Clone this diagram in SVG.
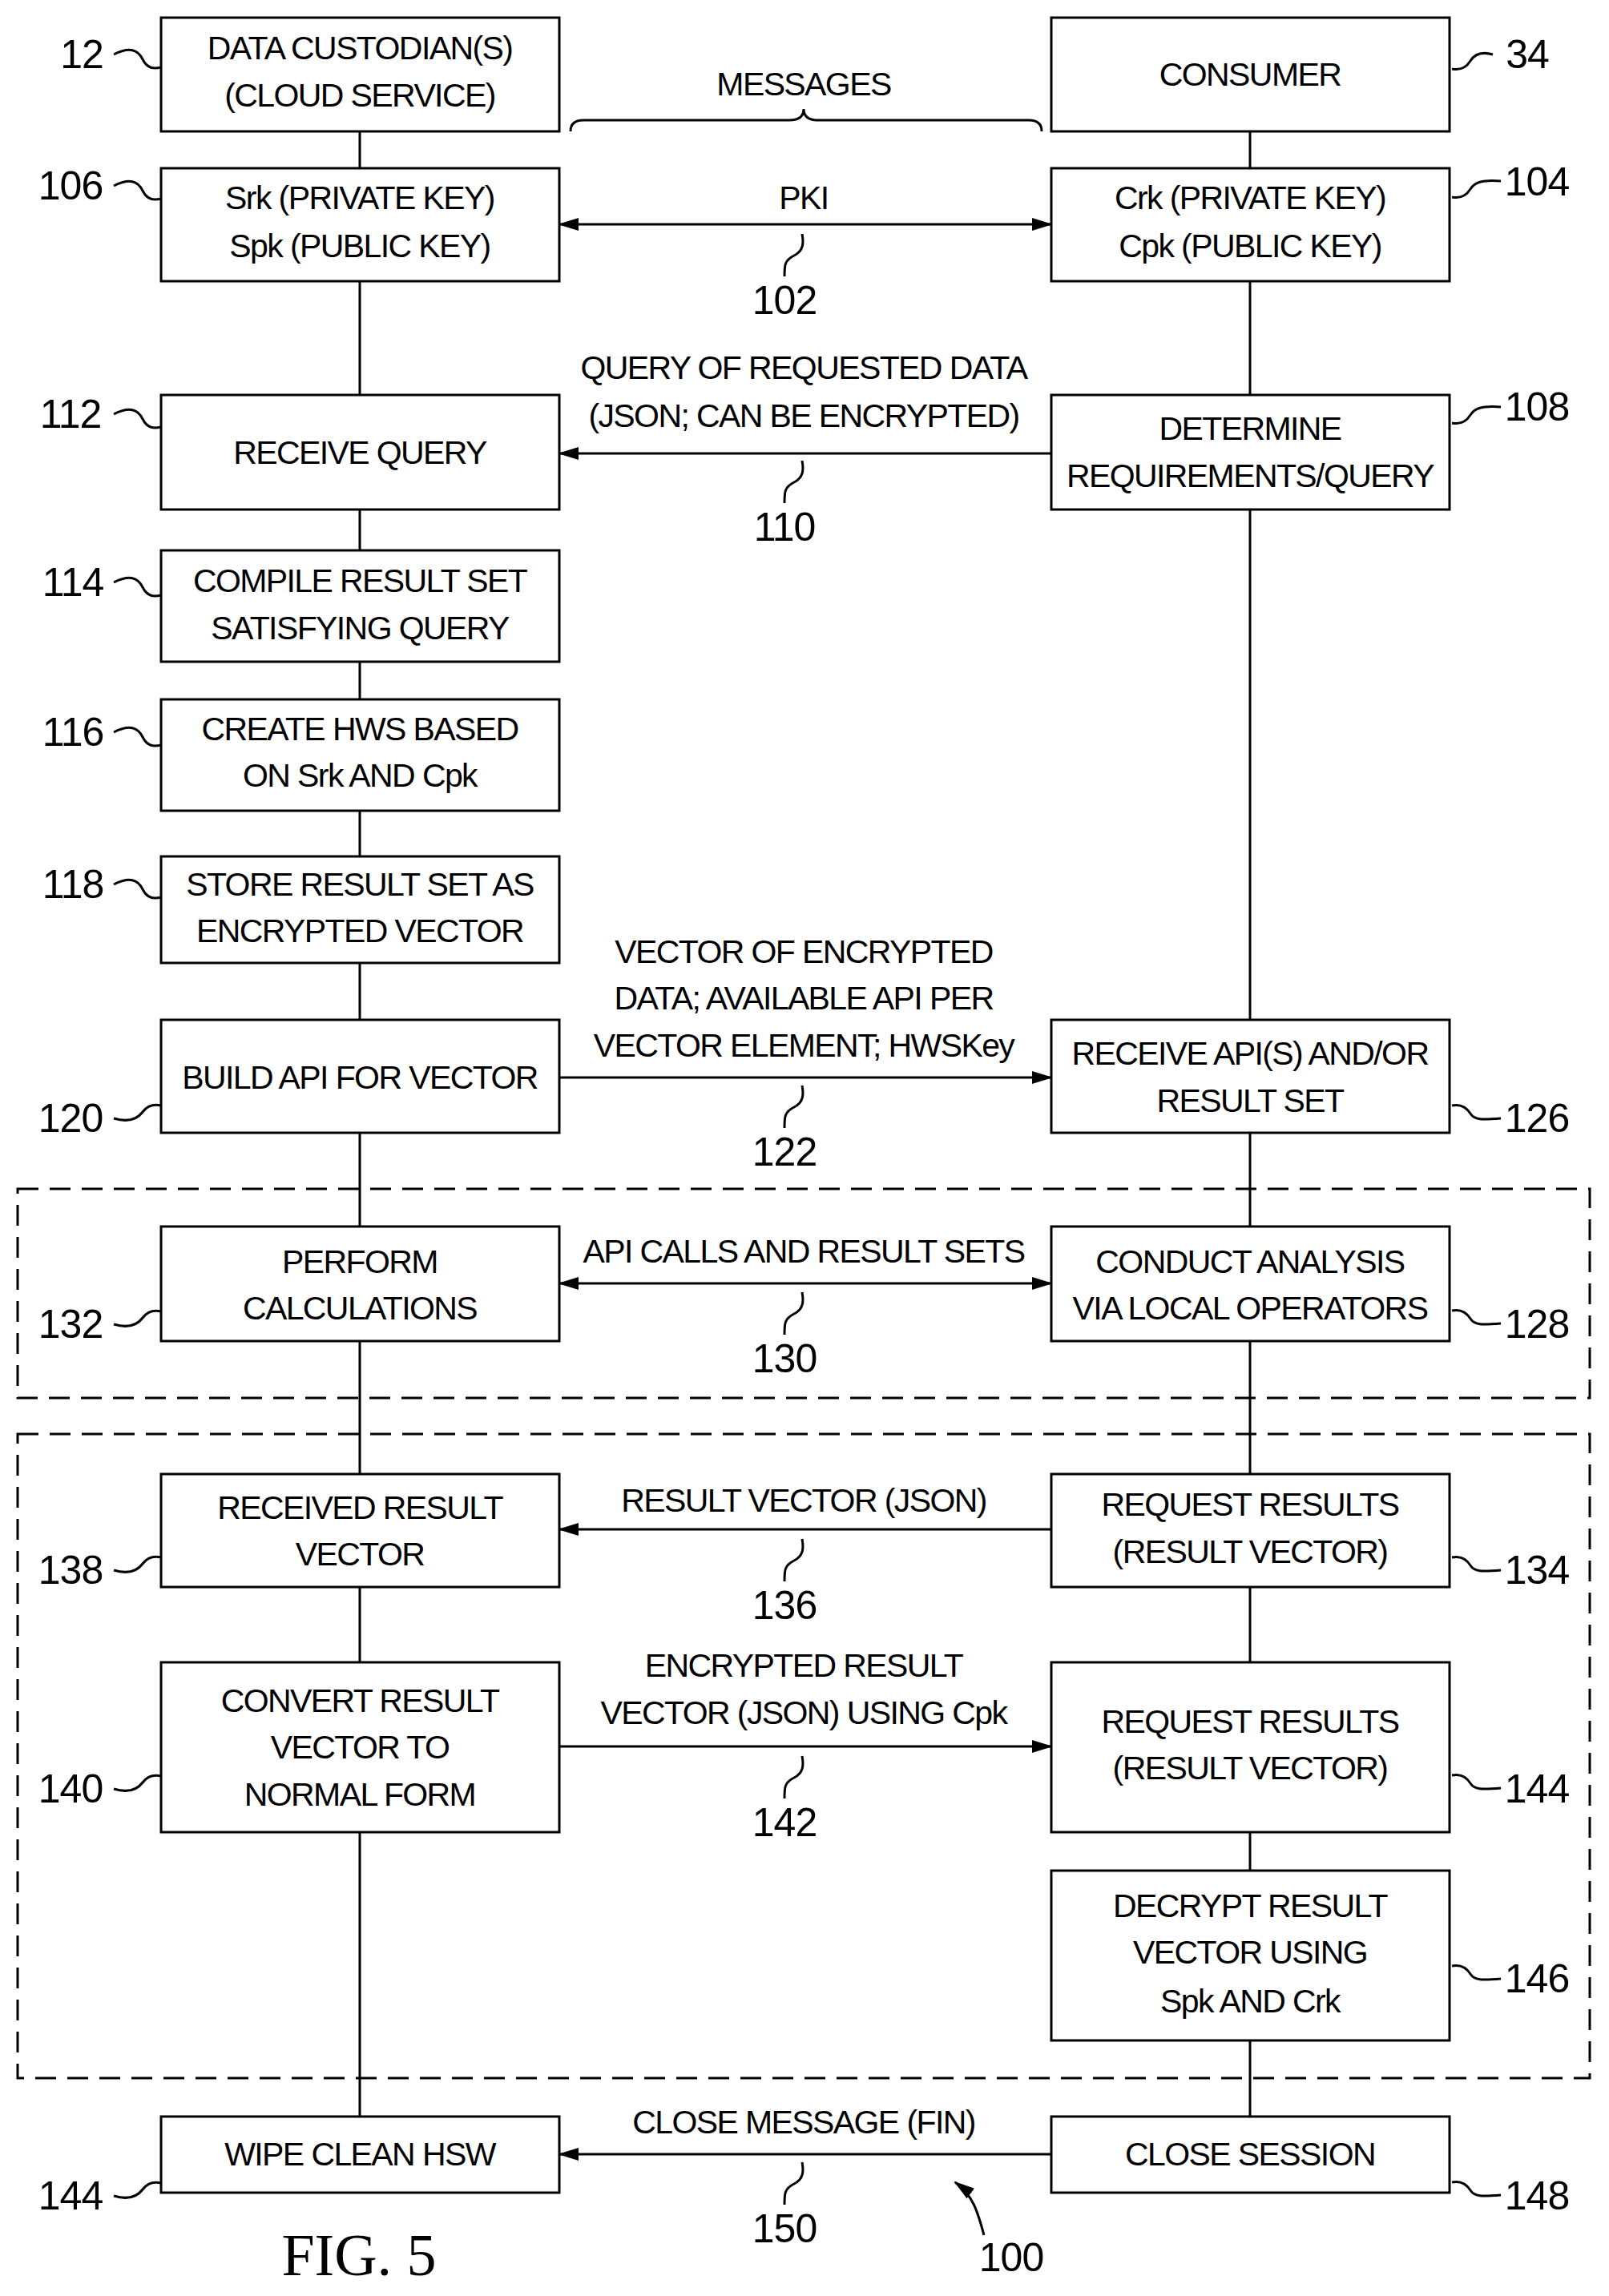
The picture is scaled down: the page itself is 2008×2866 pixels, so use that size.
<svg xmlns="http://www.w3.org/2000/svg" width="2008" height="2866" viewBox="0 0 2008 2866">
<style>
.b{fill:#fff;stroke:#000;stroke-width:3}
.t{font-family:"Liberation Sans",Arial,sans-serif;font-size:41px;letter-spacing:-1.6px;text-anchor:middle;dominant-baseline:central}
.n{font-family:"Liberation Sans",Arial,sans-serif;font-size:50px;letter-spacing:-1px;text-anchor:middle;dominant-baseline:central}
.l{fill:none;stroke:#000;stroke-width:3}
.d{fill:none;stroke:#000;stroke-width:3;stroke-dasharray:26 14}
</style>
<defs>
<marker id="a" markerUnits="userSpaceOnUse" markerWidth="26" markerHeight="20" refX="24" refY="10" orient="auto-start-reverse"><path d="M0,2 L26,10 L0,18 Z" fill="#000"/></marker>
</defs>
<rect width="2008" height="2866" fill="#fff"/>
<g id="connectors">
<path class="l" d="M449,164V2642M1560,164V2642"/>
<path class="l" d="M698,280H1312" marker-start="url(#a)" marker-end="url(#a)"/>
<path class="l" d="M1312,566H698" marker-end="url(#a)"/>
<path class="l" d="M698,1345H1312" marker-end="url(#a)"/>
<path class="l" d="M698,1602H1312" marker-start="url(#a)" marker-end="url(#a)"/>
<path class="l" d="M1312,1909H698" marker-end="url(#a)"/>
<path class="l" d="M698,2180H1312" marker-end="url(#a)"/>
<path class="l" d="M1312,2689H698" marker-end="url(#a)"/>
<path class="l" d="M712,164q0,-14 16,-14L985,150q18,0 18,-14q0,14 18,14L1284,150q16,0 16,14"/>
<path class="l" d="M1228,2790c-8,-30 -14,-50 -36,-66" marker-end="url(#a)"/>
</g>
<rect class="d" x="22" y="1484" width="1962" height="261"/>
<rect class="d" x="22" y="1790" width="1962" height="804"/>
<g id="n12"><rect class="b" x="201" y="22" width="497" height="142"/><text class="t" x="449" y="60">DATA CUSTODIAN(S)</text><text class="t" x="449" y="119">(CLOUD SERVICE)</text></g>
<g id="n34"><rect class="b" x="1312" y="22" width="497" height="142"/><text class="t" x="1560" y="93">CONSUMER</text></g>
<g id="n106"><rect class="b" x="201" y="210" width="497" height="141"/><text class="t" x="449" y="247">Srk (PRIVATE KEY)</text><text class="t" x="449" y="307">Spk (PUBLIC KEY)</text></g>
<g id="n104"><rect class="b" x="1312" y="210" width="497" height="141"/><text class="t" x="1560" y="247">Crk (PRIVATE KEY)</text><text class="t" x="1560" y="307">Cpk (PUBLIC KEY)</text></g>
<g id="n112"><rect class="b" x="201" y="493" width="497" height="143"/><text class="t" x="449" y="565">RECEIVE QUERY</text></g>
<g id="n108"><rect class="b" x="1312" y="493" width="497" height="143"/><text class="t" x="1560" y="535">DETERMINE</text><text class="t" x="1560" y="594">REQUIREMENTS/QUERY</text></g>
<g id="n114"><rect class="b" x="201" y="687" width="497" height="139"/><text class="t" x="449" y="725">COMPILE RESULT SET</text><text class="t" x="449" y="784">SATISFYING QUERY</text></g>
<g id="n116"><rect class="b" x="201" y="873" width="497" height="139"/><text class="t" x="449" y="910">CREATE HWS BASED</text><text class="t" x="449" y="968">ON Srk AND Cpk</text></g>
<g id="n118"><rect class="b" x="201" y="1069" width="497" height="133"/><text class="t" x="449" y="1104">STORE RESULT SET AS</text><text class="t" x="449" y="1162">ENCRYPTED VECTOR</text></g>
<g id="n120"><rect class="b" x="201" y="1273" width="497" height="141"/><text class="t" x="449" y="1345">BUILD API FOR VECTOR</text></g>
<g id="n126"><rect class="b" x="1312" y="1273" width="497" height="141"/><text class="t" x="1560" y="1315">RECEIVE API(S) AND/OR</text><text class="t" x="1560" y="1374">RESULT SET</text></g>
<g id="n132"><rect class="b" x="201" y="1531" width="497" height="143"/><text class="t" x="449" y="1575">PERFORM</text><text class="t" x="449" y="1633">CALCULATIONS</text></g>
<g id="n128"><rect class="b" x="1312" y="1531" width="497" height="143"/><text class="t" x="1560" y="1575">CONDUCT ANALYSIS</text><text class="t" x="1560" y="1633">VIA LOCAL OPERATORS</text></g>
<g id="n138"><rect class="b" x="201" y="1840" width="497" height="141"/><text class="t" x="449" y="1882">RECEIVED RESULT</text><text class="t" x="449" y="1940">VECTOR</text></g>
<g id="n134"><rect class="b" x="1312" y="1840" width="497" height="141"/><text class="t" x="1560" y="1878">REQUEST RESULTS</text><text class="t" x="1560" y="1937">(RESULT VECTOR)</text></g>
<g id="n140"><rect class="b" x="201" y="2075" width="497" height="212"/><text class="t" x="449" y="2123">CONVERT RESULT</text><text class="t" x="449" y="2181">VECTOR TO</text><text class="t" x="449" y="2240">NORMAL FORM</text></g>
<g id="n144r"><rect class="b" x="1312" y="2075" width="497" height="212"/><text class="t" x="1560" y="2149">REQUEST RESULTS</text><text class="t" x="1560" y="2207">(RESULT VECTOR)</text></g>
<g id="n146"><rect class="b" x="1312" y="2335" width="497" height="212"/><text class="t" x="1560" y="2379">DECRYPT RESULT</text><text class="t" x="1560" y="2437">VECTOR USING</text><text class="t" x="1560" y="2498">Spk AND Crk</text></g>
<g id="n144l"><rect class="b" x="201" y="2642" width="497" height="95"/><text class="t" x="449" y="2689">WIPE CLEAN HSW</text></g>
<g id="n148"><rect class="b" x="1312" y="2642" width="497" height="95"/><text class="t" x="1560" y="2689">CLOSE SESSION</text></g>
<g id="labels">
<text class="t" x="1003" y="105">MESSAGES</text>
<text class="t" x="1003" y="247">PKI</text>
<text class="t" x="1003" y="459">QUERY OF REQUESTED DATA</text><text class="t" x="1003" y="519">(JSON; CAN BE ENCRYPTED)</text>
<text class="t" x="1003" y="1188">VECTOR OF ENCRYPTED</text><text class="t" x="1003" y="1246">DATA; AVAILABLE API PER</text><text class="t" x="1003" y="1305">VECTOR ELEMENT; HWSKey</text>
<text class="t" x="1003" y="1562">API CALLS AND RESULT SETS</text>
<text class="t" x="1003" y="1873">RESULT VECTOR (JSON)</text>
<text class="t" x="1003" y="2079">ENCRYPTED RESULT</text><text class="t" x="1003" y="2138">VECTOR (JSON) USING Cpk</text>
<text class="t" x="1003" y="2649">CLOSE MESSAGE (FIN)</text>
<text class="n" x="979" y="375">102</text><text class="n" x="979" y="658">110</text><text class="n" x="979" y="1438">122</text><text class="n" x="979" y="1696">130</text><text class="n" x="979" y="2004">136</text><text class="n" x="979" y="2275">142</text><text class="n" x="979" y="2782">150</text>
<text class="n" x="1262" y="2818">100</text>
<text x="448" y="2840" style="font-family:'Liberation Serif',serif;font-size:74px;text-anchor:middle">FIG. 5</text>
<text class="n" x="102" y="68">12</text><text class="n" x="1906" y="68">34</text>
<text class="n" x="88" y="232">106</text><text class="n" x="1918" y="227">104</text>
<text class="n" x="88" y="517">112</text><text class="n" x="1918" y="508">108</text>
<text class="n" x="91" y="727">114</text><text class="n" x="91" y="914">116</text><text class="n" x="91" y="1104">118</text>
<text class="n" x="88" y="1396">120</text><text class="n" x="1918" y="1396">126</text>
<text class="n" x="88" y="1653">132</text><text class="n" x="1918" y="1653">128</text>
<text class="n" x="88" y="1960">138</text><text class="n" x="1918" y="1960">134</text>
<text class="n" x="88" y="2233">140</text><text class="n" x="1918" y="2233">144</text>
<text class="n" x="1918" y="2470">146</text>
<text class="n" x="88" y="2741">144</text><text class="n" x="1918" y="2741">148</text>
</g>
<g id="leaders" class="l" fill="none" stroke="#000" stroke-width="3">
<path d="M142,68c20,-10 30,-6 36,6s14,12 23,10"/>
<path d="M1812,86c10,2 18,-2 23,-10s14,-12 28,-8"/>
<path d="M142,232c20,-10 30,-6 36,6s14,12 23,10"/>
<path d="M1812,246c10,2 18,-2 23,-10s14,-12 38,-10"/>
<path d="M142,517c20,-10 30,-6 36,6s14,12 23,10"/>
<path d="M1812,528c10,2 18,-2 23,-10s14,-12 38,-10"/>
<path d="M142,727c20,-10 30,-6 36,6s14,12 23,10"/>
<path d="M142,914c20,-10 30,-6 36,6s14,12 23,10"/>
<path d="M142,1104c20,-10 30,-6 36,6s14,12 23,10"/>
<path d="M142,1396c20,6 30,0 36,-8s14,-10 23,-8"/>
<path d="M1812,1380c10,-2 18,2 23,10s14,8 38,6"/>
<path d="M142,1653c20,6 30,0 36,-8s14,-10 23,-8"/>
<path d="M1812,1636c10,-2 18,2 23,10s14,8 38,6"/>
<path d="M142,1960c20,6 30,0 36,-8s14,-10 23,-8"/>
<path d="M1812,1944c10,-2 18,2 23,10s14,8 38,6"/>
<path d="M142,2233c20,6 30,0 36,-8s14,-10 23,-8"/>
<path d="M1812,2216c10,-2 18,2 23,10s14,8 38,6"/>
<path d="M1812,2454c10,-2 18,2 23,10s14,8 38,6"/>
<path d="M142,2741c20,6 30,0 36,-8s14,-10 23,-8"/>
<path d="M1812,2724c10,-2 18,2 23,10s14,8 38,6"/>
<path d="M979,345c0,-14 0,-20 12,-26s12,-16 10,-27"/>
<path d="M979,628c0,-14 0,-20 12,-26s12,-16 10,-27"/>
<path d="M979,1408c0,-14 0,-20 12,-26s12,-16 10,-27"/>
<path d="M979,1666c0,-14 0,-20 12,-26s12,-16 10,-27"/>
<path d="M979,1974c0,-14 0,-20 12,-26s12,-16 10,-27"/>
<path d="M979,2245c0,-14 0,-20 12,-26s12,-16 10,-27"/>
<path d="M979,2752c0,-14 0,-20 12,-26s12,-16 10,-27"/>
</g>
</svg>
